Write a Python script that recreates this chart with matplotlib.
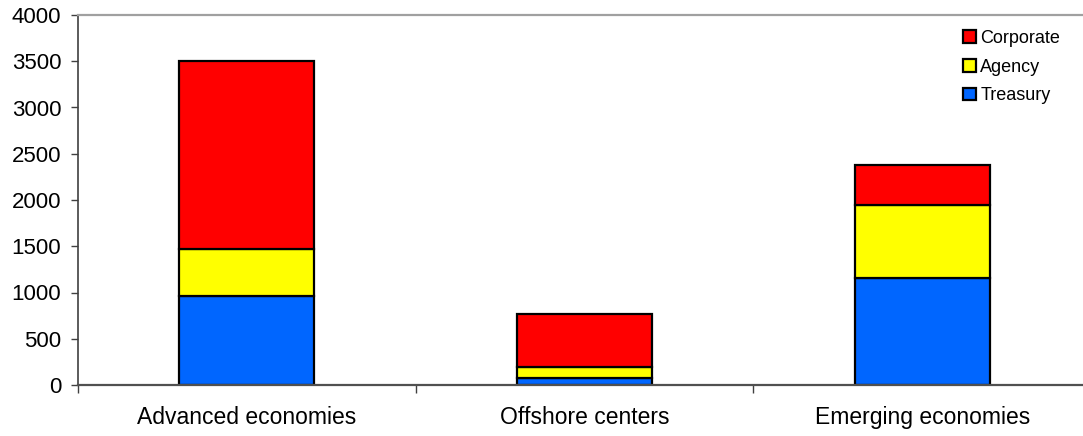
import matplotlib
matplotlib.use("Agg")
import matplotlib.pyplot as plt
import numpy as np

categories = ["Advanced economies", "Offshore centers", "Emerging economies"]
treasury = [960, 75, 1155]
agency = [510, 120, 790]
corporate = [2030, 570, 430]
yticks = [0, 500, 1000, 1500, 2000, 2500, 3000, 3500, 4000]

plt.rcParams['font.family'] = ['Liberation Sans', 'DejaVu Sans']

fig = plt.figure(figsize=(10.83, 4.36), dpi=100)
ax = fig.add_axes([78/1083, 51/436, 1013/1083, 370/436])

x = np.arange(len(categories))
w = 0.4
ec = 'black'
lw = 1.6
b1 = ax.bar(x, treasury, w, color='#0066FF', edgecolor=ec, linewidth=lw, label='Treasury')
b2 = ax.bar(x, agency, w, bottom=treasury, color='#FFFF00', edgecolor=ec, linewidth=lw, label='Agency')
bottom2 = np.array(treasury) + np.array(agency)
b3 = ax.bar(x, corporate, w, bottom=bottom2, color='#FF0000', edgecolor=ec, linewidth=lw, label='Corporate')

ax.set_xlim(-0.5, 2.5)
ax.set_ylim(0, 4000)
ax.set_yticks(yticks)
ax.set_yticklabels([str(v) for v in yticks], fontsize=16)
ax.set_xticks([-0.5, 0.5, 1.5])
ax.set_xticklabels([])
ax.set_xticks(x, minor=True)
ax.set_xticklabels(categories, minor=True, fontsize=16.5)
ax.tick_params(axis='x', which='minor', length=0, pad=15)
ax.tick_params(axis='x', which='major', length=6, width=1, color='#404040', direction='out')
ax.tick_params(axis='y', length=5, width=1, color='#404040', direction='out', pad=7)

ax.spines['left'].set_color('#404040')
ax.spines['left'].set_linewidth(1.2)
ax.spines['bottom'].set_color('#505050')
ax.spines['bottom'].set_linewidth(1.6)
ax.spines['top'].set_color('#A0A0A0')
ax.spines['top'].set_linewidth(1.6)
ax.spines['right'].set_visible(False)

handles = [b3, b2, b1]
labels = ['Corporate', 'Agency', 'Treasury']
leg = fig.legend(handles, labels, loc='upper left', bbox_to_anchor=(963/1083, 1 - 30/436),
                 frameon=False, fontsize=13, handlelength=0.7, handleheight=0.7,
                 handletextpad=0.25, labelspacing=0.65, borderpad=0, borderaxespad=0)

fig.savefig("out.png", dpi=100)
